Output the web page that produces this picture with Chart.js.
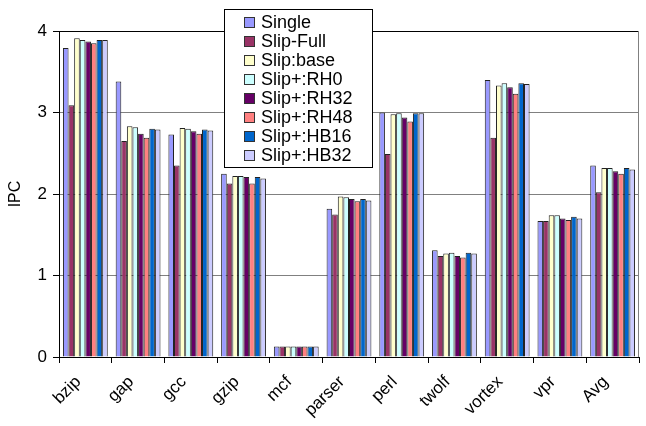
<!DOCTYPE html>
<html lang="en">
<head>
  <meta charset="UTF-8">
  <title>IPC</title>
  <script src="https://cdn.jsdelivr.net/npm/chart.js@4.4.1/dist/chart.umd.min.js"></script>
  <style>
    body { margin: 0; background: #fff; }
    #wrap { width: 646px; height: 426px; }
  </style>
</head>
<body>
  <div id="wrap"><canvas id="ipc-chart" width="646" height="426"></canvas></div>

  <script>
    // categorias e valores
    var categories = ['bzip', 'gap', 'gcc', 'gzip', 'mcf', 'parser', 'perl', 'twolf', 'vortex', 'vpr', 'Avg'];
    var seriesNames = ['Single', 'Slip-Full', 'Slip:base', 'Slip+:RH0', 'Slip+:RH32', 'Slip+:RH48', 'Slip+:HB16', 'Slip+:HB32'];
    var seriesColors = ['#9999FF', '#993366', '#FFFFCC', '#CCFFFF', '#660066', '#FF8080', '#0066CC', '#CCCCFF'];

    var single   = [3.79, 3.38, 2.73, 2.25, 0.13, 1.82, 3.00, 1.31, 3.40, 1.67, 2.35];
    var slipFull = [3.09, 2.65, 2.35, 2.13, 0.13, 1.75, 2.49, 1.24, 2.69, 1.67, 2.02];
    var slipBase = [3.91, 2.83, 2.81, 2.22, 0.13, 1.97, 2.98, 1.27, 3.33, 1.74, 2.32];
    var rh0      = [3.89, 2.82, 2.80, 2.22, 0.13, 1.96, 2.99, 1.28, 3.36, 1.74, 2.32];
    var rh32     = [3.87, 2.74, 2.77, 2.21, 0.13, 1.94, 2.94, 1.24, 3.31, 1.70, 2.28];
    var rh48     = [3.85, 2.69, 2.74, 2.13, 0.13, 1.91, 2.89, 1.22, 3.23, 1.68, 2.25];
    var hb16     = [3.89, 2.80, 2.79, 2.21, 0.13, 1.94, 2.99, 1.28, 3.36, 1.72, 2.32];
    var hb32     = [3.89, 2.79, 2.78, 2.19, 0.13, 1.92, 2.99, 1.27, 3.35, 1.70, 2.30];

    var yTicks = [0, 1, 2, 3, 4];

    var allSeries = [single, slipFull, slipBase, rh0, rh32, rh48, hb16, hb32];

    var datasets = allSeries.map(function (values, i) {
      return {
        label: seriesNames[i],
        data: values,
        backgroundColor: seriesColors[i],
        borderColor: '#222',
        borderWidth: 1,
        barPercentage: 1.0,
        categoryPercentage: 0.85
      };
    });

    // legenda desenhada por cima do grafico, como no excel
    var boxLegend = {
      id: 'boxLegend',
      afterDraw: function (chart) {
        var ctx = chart.ctx;
        var area = chart.chartArea;
        ctx.save();
        // moldura do topo e da direita
        ctx.strokeStyle = '#000';
        ctx.lineWidth = 1;
        ctx.beginPath();
        ctx.moveTo(area.left, area.top + 0.5);
        ctx.lineTo(area.right, area.top + 0.5);
        ctx.stroke();
        ctx.strokeStyle = '#808080';
        ctx.beginPath();
        ctx.moveTo(area.right - 0.5, area.top);
        ctx.lineTo(area.right - 0.5, area.bottom);
        ctx.stroke();

        var x0 = 224, y0 = 9, w = 148, h = 158;
        ctx.fillStyle = '#fff';
        ctx.fillRect(x0, y0, w, h);
        ctx.strokeStyle = '#000';
        ctx.strokeRect(x0 + 0.5, y0 + 0.5, w, h);
        ctx.font = '18px "Liberation Sans", Arial, sans-serif';
        ctx.textBaseline = 'middle';
        chart.data.datasets.forEach(function (ds, i) {
          var cy = 22.5 + i * 19;
          ctx.fillStyle = ds.backgroundColor;
          ctx.fillRect(244, cy - 5.5, 11, 11);
          ctx.strokeStyle = '#333';
          ctx.strokeRect(244.5, cy - 5, 10, 10);
          ctx.fillStyle = '#000';
          ctx.fillText(ds.label, 261, cy + 1);
        });
        ctx.restore();
      }
    };

    var chart = new Chart('ipc-chart', {
      type: 'bar',
      data: {
        labels: categories,
        datasets: datasets
      },
      options: {
        responsive: false,
        animation: false,
        layout: { padding: { top: 31, right: 7, left: 0, bottom: 0 } },
        plugins: {
          legend: { display: false },
          tooltip: { enabled: false }
        },
        scales: {
          x: {
            offset: true,
            grid: { offset: true, drawOnChartArea: false, color: '#000', tickLength: 6 },
            border: { color: '#000' },
            ticks: {
              color: '#000',
              maxRotation: 45,
              minRotation: 45,
              labelOffset: -7,
              padding: 9,
              font: { family: '"Liberation Sans", Arial, sans-serif', size: 17 }
            },
            afterFit: function (scale) { scale.height = 69; }
          },
          y: {
            min: 0,
            max: 4,
            afterBuildTicks: function (scale) {
              scale.ticks = yTicks.map(function (v) { return { value: v }; });
            },
            grid: {
              color: function (c) { return c.tick && c.tick.value === 4 ? '#000' : '#808080'; },
              tickColor: '#000',
              tickLength: 6
            },
            border: { color: '#000' },
            ticks: {
              color: '#000',
              padding: 6,
              font: { family: '"Liberation Sans", Arial, sans-serif', size: 17 }
            },
            title: {
              display: true,
              text: 'IPC',
              color: '#000',
              padding: { top: 6, bottom: 2 },
              font: { family: '"Liberation Sans", Arial, sans-serif', size: 16 }
            },
            afterFit: function (scale) { scale.width = 59; }
          }
        }
      },
      plugins: [boxLegend]
    });
  </script>
</body>
</html>
